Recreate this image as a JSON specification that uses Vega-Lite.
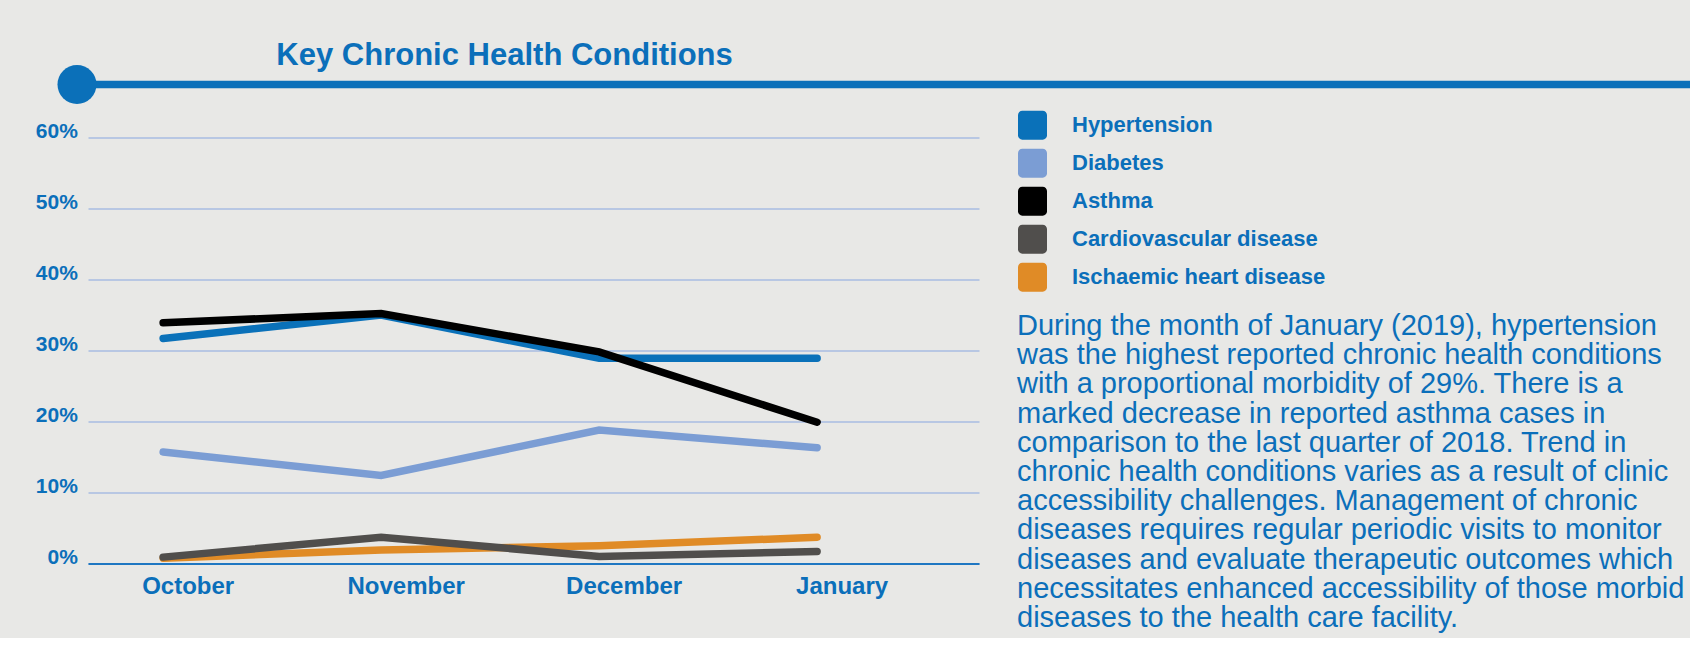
{
  "$schema": "https://vega.github.io/schema/vega-lite/v6.json",
  "background": "#e8e8e6",
  "padding": {"left": 35, "top": 39, "right": 0, "bottom": 0},
  "title": {"text": "Key Chronic Health Conditions", "anchor": "start", "frame": "bounds", "dx": 241, "offset": -30.8, "baseline": "alphabetic", "font": "Liberation Sans", "fontSize": 31, "fontWeight": "bold", "color": "#0b6fba"},
  "config": {"view": {"stroke": null}, "font": "Liberation Sans"},
  "spacing": 16.5,
  "vconcat": [
    {
      "width": 1602,
      "height": 39,
      "data": {"values": [{"start": -0.00687, "end": 1.0}]},
      "layer": [
        {
          "mark": {"type": "rule", "color": "#0b70b9", "strokeWidth": 7.5},
          "encoding": {
            "x": {"field": "start", "type": "quantitative", "scale": {"domain": [0, 1]}, "axis": null},
            "x2": {"field": "end"},
            "y": {"datum": 0.5, "type": "quantitative", "scale": {"domain": [0, 1]}, "axis": null}
          }
        },
        {
          "mark": {"type": "point", "shape": "circle", "filled": true, "size": 1521, "color": "#0b70b9", "opacity": 1},
          "encoding": {
            "x": {"field": "start", "type": "quantitative"},
            "y": {"datum": 0.5, "type": "quantitative"}
          }
        }
      ]
    },
    {
      "spacing": 38,
      "hconcat": [
        {
          "width": 891,
          "height": 426,
          "data": {"values": [
            {"condition": "Ischaemic heart disease", "month": "October", "n": 1, "value": 0.0075},
            {"condition": "Ischaemic heart disease", "month": "November", "n": 2, "value": 0.019},
            {"condition": "Ischaemic heart disease", "month": "December", "n": 3, "value": 0.025},
            {"condition": "Ischaemic heart disease", "month": "January", "n": 4, "value": 0.037},
            {"condition": "Cardiovascular disease", "month": "October", "n": 1, "value": 0.009},
            {"condition": "Cardiovascular disease", "month": "November", "n": 2, "value": 0.037},
            {"condition": "Cardiovascular disease", "month": "December", "n": 3, "value": 0.010},
            {"condition": "Cardiovascular disease", "month": "January", "n": 4, "value": 0.017},
            {"condition": "Diabetes", "month": "October", "n": 1, "value": 0.157},
            {"condition": "Diabetes", "month": "November", "n": 2, "value": 0.124},
            {"condition": "Diabetes", "month": "December", "n": 3, "value": 0.188},
            {"condition": "Diabetes", "month": "January", "n": 4, "value": 0.163},
            {"condition": "Hypertension", "month": "October", "n": 1, "value": 0.317},
            {"condition": "Hypertension", "month": "November", "n": 2, "value": 0.350},
            {"condition": "Hypertension", "month": "December", "n": 3, "value": 0.289},
            {"condition": "Hypertension", "month": "January", "n": 4, "value": 0.289},
            {"condition": "Asthma", "month": "October", "n": 1, "value": 0.339},
            {"condition": "Asthma", "month": "November", "n": 2, "value": 0.352},
            {"condition": "Asthma", "month": "December", "n": 3, "value": 0.298},
            {"condition": "Asthma", "month": "January", "n": 4, "value": 0.199}
          ]},
          "mark": {"type": "line", "strokeWidth": 7.5, "strokeCap": "round"},
          "encoding": {
            "x": {
              "field": "month", "type": "ordinal",
              "sort": ["October", "November", "December", "January"],
              "scale": {"type": "point", "padding": 0.5436, "align": 0.317},
              "axis": {"title": null, "labelAngle": 0, "labelFont": "Liberation Sans", "labelFontSize": 24, "labelFontWeight": "bold", "labelColor": "#0b6fba", "labelOffset": 24.5, "labelPadding": 11, "ticks": false, "tickSize": 0, "domainColor": "#1f77c2", "domainWidth": 2, "grid": false, "zindex": 1}
            },
            "y": {
              "field": "value", "type": "quantitative",
              "scale": {"domain": [0, 0.6], "nice": false},
              "axis": {"title": null, "values": [0, 0.1, 0.2, 0.3, 0.4, 0.5, 0.6], "format": ".0%", "labelFont": "Liberation Sans", "labelFontSize": 21, "labelFontWeight": "bold", "labelColor": "#0b6fba", "labelBaseline": "alphabetic", "labelPadding": 10.6, "ticks": false, "tickSize": 0, "domain": false, "gridColor": "#a8bce2", "gridWidth": 1.5}
            },
            "color": {
              "field": "condition", "type": "nominal",
              "scale": {
                "domain": ["Hypertension", "Diabetes", "Asthma", "Cardiovascular disease", "Ischaemic heart disease"],
                "range": ["#0a71b9", "#7b9dd4", "#000000", "#504e4c", "#e08b26"]
              },
              "legend": {
                "orient": "none", "legendX": 930, "legendY": 45.7, "title": null,
                "symbolType": "M-0.7,-1H0.7A0.3,0.3,0,0,1,1,-0.7V0.7A0.3,0.3,0,0,1,0.7,1H-0.7A0.3,0.3,0,0,1,-1,0.7V-0.7A0.3,0.3,0,0,1,-0.7,-1Z",
                "symbolSize": 841, "symbolStrokeWidth": 0,
                "labelFont": "Liberation Sans", "labelFontSize": 22, "labelFontWeight": "bold", "labelColor": "#0b6fba",
                "labelOffset": 25, "rowPadding": 9, "padding": 0, "labelLimit": 400,
                "encode": {"symbols": {"update": {"fill": {"scale": "color", "field": "value"}, "fillOpacity": {"value": 1}, "strokeWidth": {"value": 0}}}}
              }
            },
            "order": {"field": "n"}
          }
        },
        {
          "width": 671,
          "height": 500,
          "data": {"values": [
            {"line": 1, "text": "During the month of January (2019), hypertension"},
            {"line": 2, "text": "was the highest reported chronic health conditions"},
            {"line": 3, "text": "with a proportional morbidity of 29%. There is a"},
            {"line": 4, "text": "marked decrease in reported asthma cases in"},
            {"line": 5, "text": "comparison to the last quarter of 2018. Trend in"},
            {"line": 6, "text": "chronic health conditions varies as a result of clinic"},
            {"line": 7, "text": "accessibility challenges. Management of chronic"},
            {"line": 8, "text": "diseases requires regular periodic visits to monitor"},
            {"line": 9, "text": "diseases and evaluate therapeutic outcomes which"},
            {"line": 10, "text": "necessitates enhanced accessibility of those morbid"},
            {"line": 11, "text": "diseases to the health care facility."}
          ]},
          "mark": {"type": "text", "align": "left", "baseline": "alphabetic", "fontSize": 29, "font": "Liberation Sans", "color": "#0b6fba"},
          "encoding": {
            "x": {"datum": 0, "type": "quantitative", "scale": {"domain": [0, 1]}, "axis": null},
            "y": {"field": "line", "type": "quantitative", "scale": {"domain": [-5.764, 11.359], "reverse": true, "nice": false, "zero": false}, "axis": null},
            "text": {"field": "text"}
          }
        }
      ]
    }
  ]
}
